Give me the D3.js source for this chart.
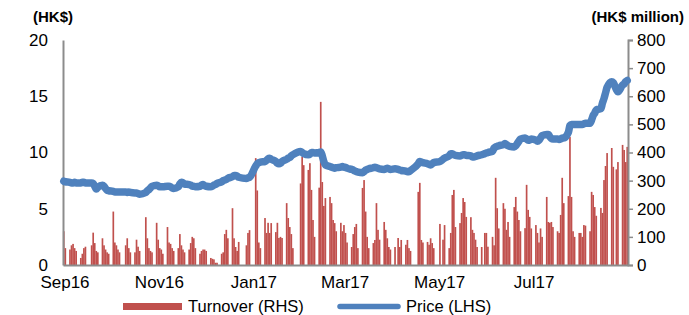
<!DOCTYPE html>
<html>
<head>
<meta charset="utf-8">
<script src="https://cdn.jsdelivr.net/npm/d3@7"></script>
<style>
  html, body { margin: 0; padding: 0; background: #ffffff; }
  svg { display: block; }
  text { font-family: "Liberation Sans", Arial, sans-serif; fill: #000; }
</style>
</head>
<body>
<svg id="chart" width="689" height="315"></svg>
<script>
// ---------------- DATA ----------------
const monthKeys = ["2016-09","2016-10","2016-11","2016-12","2017-01","2017-02",
                   "2017-03","2017-04","2017-05","2017-06","2017-07","2017-08"];

// trading days (day of month) per month
const tradingDays = [
  [1,2,5,6,7,8,9,12,13,14,15,19,20,21,22,23,26,27,28,29,30],
  [3,4,5,6,7,11,12,13,14,17,18,19,20,24,25,26,27,28,31],
  [1,2,3,4,7,8,9,10,11,14,15,16,17,18,21,22,23,24,25,28,29,30],
  [1,2,5,6,7,8,9,12,13,14,15,16,19,20,21,22,23,28,29,30],
  [3,4,5,6,9,10,11,12,13,16,17,18,19,20,23,24,25,26,27],
  [1,2,3,6,7,8,9,10,13,14,15,16,17,20,21,22,23,24,27,28],
  [1,2,3,6,7,8,9,10,13,14,15,16,17,20,21,22,23,24,27,28,29,30,31],
  [3,5,6,7,10,11,12,13,18,19,20,21,24,25,26,27,28],
  [2,4,5,8,9,10,11,12,15,16,17,18,19,22,23,24,25,26,29,31],
  [1,2,5,6,7,8,9,12,13,14,15,16,19,20,21,22,23,26,27,28,29,30],
  [3,4,5,6,7,10,11,12,13,14,17,18,19,20,21,24,25,26,27,28,31],
  [1,2,3,4,7,8,9,10,11,14,15,16,17,18,21,22,24,25,28,29,30,31]
];

// Turnover (HK$ million, RHS)
const turnover = [
  [120,60,55,70,75,60,50,25,40,60,65,70,115,78,50,45,95,70,55,45,40],
  [190,80,70,55,45,70,95,60,45,45,90,65,50,170,95,60,50,45,150],
  [90,60,55,40,135,80,75,60,50,60,110,70,55,45,55,78,100,95,60,40,50,55],
  [55,50,25,22,20,8,8,40,45,110,125,95,202,95,64,50,82,70,114,124],
  [380,265,80,60,167,114,150,114,149,117,150,96,100,96,220,167,135,110,60],
  [290,385,355,338,362,267,160,100,275,580,295,210,238,242,220,160,149,120,150,120],
  [142,114,80,64,110,135,146,60,274,302,190,100,60,78,89,220,125,90,153,125,95,64,55],
  [64,96,64,89,72,89,60,50,260,292,89,80,82,72,95,78,60],
  [146,90,142,60,114,249,267,135,149,185,238,224,171,170,125,114,90,64,64,114],
  [114,65,100,70,310,202,130,220,200,125,153,100,206,242,190,160,120,131,285,196,171,130],
  [142,114,80,130,100,242,153,150,153,135,120,114,178,310,220,245,455,242,120,100,114],
  [114,100,142,140,120,260,249,206,175,203,185,302,352,398,416,349,340,366,427,409,366,420]
];

// Price (HK$, LHS)
const price = [
  [7.45,7.4,7.35,7.3,7.3,7.35,7.3,7.3,7.35,7.35,7.3,7.3,7.25,7.0,6.75,6.9,7.1,7.0,6.8,6.65,6.6],
  [6.55,6.5,6.5,6.5,6.5,6.5,6.45,6.5,6.45,6.4,6.4,6.35,6.3,6.45,6.6,6.7,6.85,7.0,7.1],
  [7.05,6.95,6.95,6.95,7.0,7.0,6.95,6.85,6.8,6.95,7.2,7.35,7.3,7.2,7.15,7.1,7.0,7.0,6.95,7.0,7.1,7.15],
  [7.05,7.0,6.95,7.0,7.1,7.15,7.25,7.4,7.5,7.55,7.6,7.7,7.85,7.95,7.95,7.9,7.8,7.7,7.75,7.8],
  [8.8,9.0,9.1,9.15,9.2,9.3,9.45,9.5,9.4,9.2,9.05,9.0,9.05,9.2,9.4,9.5,9.55,9.7,9.8],
  [10.1,10.0,9.9,9.8,9.85,10.0,10.0,9.95,10.0,10.05,9.7,9.2,8.9,8.75,8.7,8.65,8.6,8.65,8.7,8.75],
  [8.7,8.7,8.6,8.5,8.45,8.35,8.3,8.25,8.2,8.3,8.45,8.5,8.55,8.65,8.7,8.65,8.6,8.55,8.5,8.55,8.6,8.55,8.5],
  [8.55,8.5,8.45,8.4,8.35,8.3,8.3,8.4,9.0,9.2,9.15,9.1,9.0,8.95,8.9,9.0,9.1],
  [9.2,9.4,9.5,9.7,9.9,9.9,9.8,9.75,9.7,9.75,9.8,9.8,9.75,9.7,9.6,9.6,9.65,9.7,9.8,9.9],
  [9.95,10.0,10.1,10.4,10.5,10.55,10.6,10.7,10.8,10.7,10.6,10.55,10.5,10.6,10.8,11.0,11.2,11.3,11.2,11.1,11.1,11.2],
  [11.1,11.0,11.1,11.3,11.5,11.6,11.6,11.4,11.25,11.2,11.2,11.15,11.2,11.3,11.3,11.8,12.4,12.5,12.5,12.5,12.5],
  [12.5,12.5,12.55,12.6,12.6,12.9,13.3,13.5,13.8,13.9,14.4,14.8,15.3,15.8,16.3,16.2,15.6,15.4,16.0,16.1,16.3,16.4]
];

const xTickDates  = ["2016-09-01","2016-11-01","2017-01-01","2017-03-01","2017-05-01","2017-07-01"];
const xTickLabels = ["Sep16","Nov16","Jan17","Mar17","May17","Jul17"];
const leftTicks   = [0, 5, 10, 15, 20];
const rightTicks  = [0, 100, 200, 300, 400, 500, 600, 700, 800];
const seriesNames = ["Turnover (RHS)", "Price (LHS)"];
const axisTitles  = ["(HK$)", "(HK$ million)"];

// ---------------- BUILD ----------------
(function () {
  const records = [];
  monthKeys.forEach((mk, mi) => {
    const [yy, mm] = mk.split("-").map(Number);
    tradingDays[mi].forEach((d, j) => {
      records.push({
        date: new Date(Date.UTC(yy, mm - 1, d)),
        turnover: turnover[mi][j],
        price: price[mi][j]
      });
    });
  });

  const svg = d3.select("#chart");
  const W = 689, H = 315;
  const pL = 63, pR = 628, pT = 40, pB = 265;
  const font = "Liberation Sans, Arial, sans-serif";

  svg.append("rect").attr("width", W).attr("height", H).attr("fill", "#fff");

  const x = d3.scaleUtc()
    .domain([new Date(Date.UTC(2016, 8, 1)), new Date(Date.UTC(2017, 8, 1))])
    .range([pL, pR]);
  const yL = d3.scaleLinear().domain([0, 20]).range([pB, pT]);
  const yR = d3.scaleLinear().domain([0, 800]).range([pB, pT]);

  const dayW = x(new Date(Date.UTC(2016, 8, 2))) - x(new Date(Date.UTC(2016, 8, 1)));
  const barW = dayW * 1.08;

  // bars
  svg.append("g").selectAll("rect").data(records).join("rect")
    .attr("x", d => x(d.date) + (dayW - barW) / 2)
    .attr("y", d => yR(d.turnover))
    .attr("width", barW)
    .attr("height", d => pB - yR(d.turnover))
    .attr("fill", "#C0504D");

  const axisColor = "#8c8c8c";
  // left axis
  const gL = svg.append("g").attr("transform", `translate(${pL},0)`)
    .call(d3.axisLeft(yL).tickValues(leftTicks).tickSize(0).tickPadding(15));
  gL.select(".domain").attr("stroke", axisColor).attr("stroke-width", 2);
  gL.selectAll("text").attr("font-size", 17).attr("font-family", font).attr("fill", "#000");

  // right axis
  const gR = svg.append("g").attr("transform", `translate(${pR},0)`)
    .call(d3.axisRight(yR).tickValues(rightTicks).tickSize(5).tickPadding(4));
  gR.select(".domain").attr("stroke", axisColor).attr("stroke-width", 2);
  gR.selectAll(".tick line").attr("stroke", axisColor).attr("stroke-width", 1.5);
  gR.selectAll("text").attr("font-size", 17).attr("font-family", font).attr("fill", "#000");

  // bottom axis
  const gB = svg.append("g").attr("transform", `translate(0,${pB})`)
    .call(d3.axisBottom(x).tickValues(xTickDates.map(s => new Date(s + "T00:00:00Z")))
      .tickFormat((d, i) => xTickLabels[i]).tickSize(0).tickPadding(11));
  gB.select(".domain").attr("stroke", axisColor).attr("stroke-width", 2);
  gB.selectAll("text").attr("font-size", 17).attr("font-family", font).attr("fill", "#000")
    .attr("dx", 1.5);

  // price line
  const line = d3.line()
    .x(d => x(d.date) + dayW / 2)
    .y(d => yL(d.price))
    .curve(d3.curveMonotoneX);
  svg.append("path").datum(records)
    .attr("d", line)
    .attr("fill", "none")
    .attr("stroke", "#4F81BD")
    .attr("stroke-width", 7.5)
    .attr("stroke-linejoin", "round")
    .attr("stroke-linecap", "round");

  // axis titles
  svg.append("text").attr("x", 53).attr("y", 22).attr("text-anchor", "middle")
    .attr("font-size", 15).attr("font-weight", "bold").text(axisTitles[0]);
  svg.append("text").attr("x", 684).attr("y", 22).attr("text-anchor", "end")
    .attr("font-size", 15).attr("font-weight", "bold").text(axisTitles[1]);

  // legend
  const lg = svg.append("g");
  lg.append("rect").attr("x", 123).attr("y", 303).attr("width", 59).attr("height", 7).attr("fill", "#C0504D");
  lg.append("text").attr("x", 188).attr("y", 311.5).attr("font-size", 16.5).text(seriesNames[0]);
  lg.append("line").attr("x1", 340).attr("x2", 398).attr("y1", 306.5).attr("y2", 306.5)
    .attr("stroke", "#4F81BD").attr("stroke-width", 5.5).attr("stroke-linecap", "round");
  lg.append("text").attr("x", 406).attr("y", 311.5).attr("font-size", 16.5).text(seriesNames[1]);
})();
</script>
</body>
</html>
